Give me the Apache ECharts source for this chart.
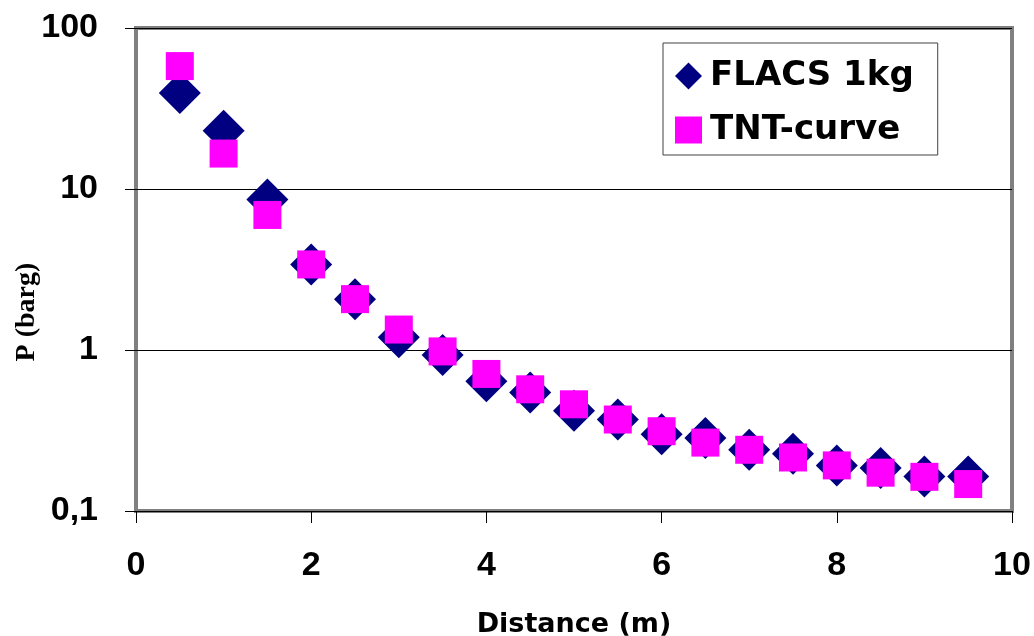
<!DOCTYPE html>
<html>
<head>
<meta charset="utf-8">
<script src="https://cdn.jsdelivr.net/npm/echarts@6/dist/echarts.min.js"></script>
<style>
  html, body { margin: 0; padding: 0; background: #fff; }
  #chart { width: 1034px; height: 636px; }
</style>
</head>
<body>
<div id="chart"></div>
<script>
// distance (m)
const distance = [0.5, 1, 1.5, 2, 2.5, 3, 3.5, 4, 4.5, 5, 5.5, 6, 6.5, 7, 7.5, 8, 8.5, 9, 9.5]
// pressure (barg)
const flacs1kg = [39.5, 23, 8.6, 3.4, 2.07, 1.2, 0.93, 0.64, 0.545, 0.42, 0.37, 0.3, 0.284, 0.24, 0.227, 0.192, 0.185, 0.164, 0.164]
const tntCurve = [58, 16.6, 6.9, 3.4, 2.07, 1.34, 0.98, 0.71, 0.57, 0.46, 0.37, 0.313, 0.266, 0.24, 0.215, 0.192, 0.173, 0.163, 0.147]

const xTicks = [0, 2, 4, 6, 8, 10]
const yTicks = [0.1, 1, 10, 100]
const yTickText = ['0,1', '1', '10', '100']

function pairs(xs, ys) {
  return xs.map((x, i) => [x, ys[i]])
}

const chart = echarts.init(document.getElementById('chart'))

chart.setOption({
  animation: false,
  backgroundColor: '#fff',
  grid: {
    left: 136,
    right: 22,
    top: 28,
    bottom: 125,
    outerBoundsMode: 'none',
    containLabel: false,
    show: true,
    borderColor: '#808080',
    borderWidth: 4
  },
  // y axis title sits lower than the plot middle in the original
  graphic: [{
    type: 'text',
    x: 27,
    y: 312,
    rotation: Math.PI / 2,
    style: {
      text: 'P (barg)',
      fontFamily: 'Liberation Serif',
      fontWeight: 'bold',
      fontSize: 28,
      fill: '#000',
      align: 'center',
      verticalAlign: 'middle'
    }
  }],
  legend: {
    orient: 'vertical',
    left: 663,
    top: 43,
    padding: [16, 24, 8, 12],
    itemWidth: 27,
    itemHeight: 27,
    itemGap: 20,
    borderColor: '#404040',
    borderWidth: 1,
    backgroundColor: '#fff',
    textStyle: {
      fontFamily: 'DejaVu Sans',
      fontWeight: 'bold',
      fontSize: 34,
      color: '#000',
      padding: [0, 0, 0, 3]
    },
    data: [
      { name: 'FLACS 1kg', icon: 'diamond' },
      { name: 'TNT-curve', icon: 'rect' }
    ]
  },
  xAxis: {
    type: 'value',
    min: 0,
    max: 10,
    interval: 2,
    name: 'Distance (m)',
    nameLocation: 'middle',
    nameGap: 100,
    nameTextStyle: {
      fontFamily: 'DejaVu Sans',
      fontWeight: 'bold',
      fontSize: 27,
      color: '#000'
    },
    axisLine: { show: false },
    axisTick: { show: true, inside: false, length: 12, lineStyle: { color: '#000', width: 1 } },
    splitLine: { show: false },
    axisLabel: {
      margin: 38,
      fontFamily: 'Liberation Sans',
      fontWeight: 'bold',
      fontSize: 34,
      color: '#000',
      formatter: v => xTicks.includes(v) ? String(v) : ''
    }
  },
  yAxis: {
    type: 'log',
    logBase: 10,
    min: 0.1,
    max: 100,
    axisLine: { show: false },
    axisTick: { show: true, inside: false, length: 11, lineStyle: { color: '#000', width: 1 } },
    splitLine: { show: true, lineStyle: { color: '#000', width: 1 } },
    axisLabel: {
      margin: 38,
      fontFamily: 'Liberation Sans',
      fontWeight: 'bold',
      fontSize: 34,
      color: '#000',
      formatter: v => {
        const i = yTicks.findIndex(t => Math.abs(t - v) < v * 1e-6)
        return i >= 0 ? yTickText[i] : ''
      }
    }
  },
  series: [
    {
      name: 'FLACS 1kg',
      type: 'scatter',
      symbol: 'diamond',
      symbolSize: 42,
      itemStyle: { color: '#000080', opacity: 1 },
      data: pairs(distance, flacs1kg)
    },
    {
      name: 'TNT-curve',
      type: 'scatter',
      symbol: 'rect',
      symbolSize: 28,
      itemStyle: { color: '#FF00FF', opacity: 1 },
      data: pairs(distance, tntCurve)
    }
  ]
})
</script>
</body>
</html>
